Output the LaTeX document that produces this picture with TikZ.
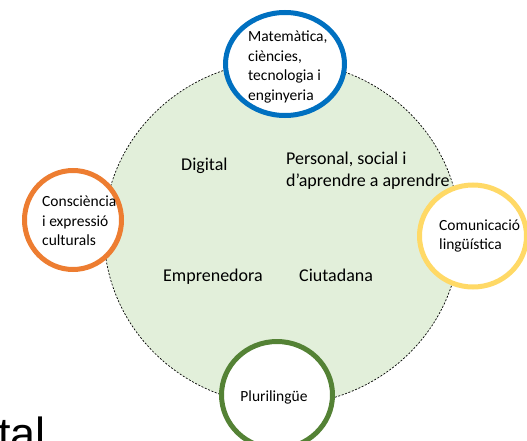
\documentclass[tikz,border=0pt]{standalone}
\usepackage{fontspec}
\setmainfont{Carlito}
\newfontfamily\arialfont{Liberation Sans}
\usetikzlibrary{shapes.geometric}
\definecolor{bluec}{HTML}{0070C0}
\definecolor{orangec}{HTML}{ED7D31}
\definecolor{yellowc}{HTML}{FFD966}
\definecolor{greenc}{HTML}{548235}
\definecolor{fillg}{HTML}{E2EFDA}
\tikzset{
  ring/.style={ellipse, draw=#1, line width=5pt, fill=white, inner sep=0pt},
  ctext/.style={inner sep=0pt, align=left, anchor=west, font=\fontsize{15.5}{19.5}\selectfont},
  itext/.style={inner sep=0pt, align=left, anchor=west, font=\fontsize{18}{22}\selectfont},
  bigring/.style={ellipse, draw=black, line width=0.7pt, dash pattern=on 2pt off 1.6pt, fill=fillg, inner sep=0pt}
}
\begin{document}
\begin{tikzpicture}[x=1pt,y=-1pt]
\useasboundingbox (0,0) rectangle (527,441);
\clip (0,0) rectangle (527,441);
\node[bigring, minimum width=356pt, minimum height=344pt] (big) at (282,233) {};
\node[itext] (dig) at (181,166) {Digital};
\node[itext] (pers) at (286,171) {Personal, social i\\d’aprendre a aprendre};
\node[itext] (empr) at (163,277) {Emprenedora};
\node[itext] (ciut) at (299,275) {Ciutadana};
\node[ring=bluec, minimum width=119pt, minimum height=103pt] (mat) at (285,64) {};
\node[ctext] (matT) at (248,67) {Matemàtica,\\ciències,\\tecnologia i\\enginyeria};
\node[ring=orangec, minimum width=97pt, minimum height=99pt] (cons) at (73,220) {};
\node[ctext] (consT) at (42,221) {Consciència\\i expressió\\culturals};
\node[ring=yellowc, minimum width=107pt, minimum height=102pt] (com) at (473,236) {};
\node[ctext] (comT) at (439,236) {Comunicació\\lingüística};
\node[ring=greenc, minimum width=111pt, minimum height=107pt] (plu) at (277,395) {};
\node[ctext, anchor=center] (pluT) at (274,397) {Plurilingüe};
\node[inner sep=0pt, anchor=base west, font=\arialfont\fontsize{45}{54}\selectfont] (tal) at (-2,449) {tal};
\end{tikzpicture}
\end{document}
